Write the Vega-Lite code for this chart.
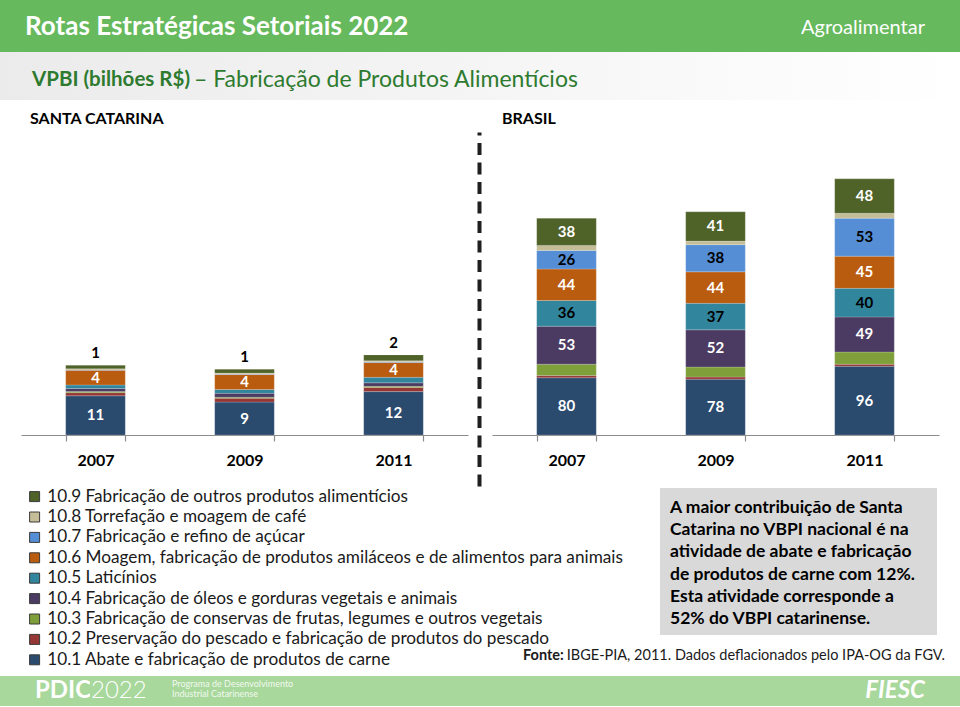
{
  "$schema": "https://vega.github.io/schema/vega-lite/v6.json",
  "padding": 0,
  "background": "#ffffff",
  "spacing": 0,
  "config": {
    "view": {"stroke": null},
    "font": "Lato",
    "concat": {"spacing": 0},
    "axis": {"grid": false}
  },
  "resolve": {"scale": {"color": "independent"}, "legend": {"color": "independent"}},
  "datasets": {
    "sc": [
      {"ano": "2007", "cod": "10.1", "valor": 11.2}, {"ano": "2007", "cod": "10.2", "valor": 0.9}, {"ano": "2007", "cod": "10.3", "valor": 0.3},
      {"ano": "2007", "cod": "10.4", "valor": 0.9}, {"ano": "2007", "cod": "10.5", "valor": 1.0}, {"ano": "2007", "cod": "10.6", "valor": 4.2},
      {"ano": "2007", "cod": "10.7", "valor": 0.1}, {"ano": "2007", "cod": "10.8", "valor": 0.3}, {"ano": "2007", "cod": "10.9", "valor": 1.0},
      {"ano": "2009", "cod": "10.1", "valor": 9.4}, {"ano": "2009", "cod": "10.2", "valor": 1.1}, {"ano": "2009", "cod": "10.3", "valor": 0.3},
      {"ano": "2009", "cod": "10.4", "valor": 1.1}, {"ano": "2009", "cod": "10.5", "valor": 1.1}, {"ano": "2009", "cod": "10.6", "valor": 4.3},
      {"ano": "2009", "cod": "10.7", "valor": 0.1}, {"ano": "2009", "cod": "10.8", "valor": 0.3}, {"ano": "2009", "cod": "10.9", "valor": 1.1},
      {"ano": "2011", "cod": "10.1", "valor": 12.4}, {"ano": "2011", "cod": "10.2", "valor": 1.2}, {"ano": "2011", "cod": "10.3", "valor": 0.3},
      {"ano": "2011", "cod": "10.4", "valor": 1.0}, {"ano": "2011", "cod": "10.5", "valor": 1.6}, {"ano": "2011", "cod": "10.6", "valor": 4.2},
      {"ano": "2011", "cod": "10.7", "valor": 0.2}, {"ano": "2011", "cod": "10.8", "valor": 0.3}, {"ano": "2011", "cod": "10.9", "valor": 1.7}
    ],
    "br": [
      {"ano": "2007", "cod": "10.1", "valor": 80}, {"ano": "2007", "cod": "10.2", "valor": 3}, {"ano": "2007", "cod": "10.3", "valor": 16},
      {"ano": "2007", "cod": "10.4", "valor": 53}, {"ano": "2007", "cod": "10.5", "valor": 36}, {"ano": "2007", "cod": "10.6", "valor": 44},
      {"ano": "2007", "cod": "10.7", "valor": 26}, {"ano": "2007", "cod": "10.8", "valor": 7}, {"ano": "2007", "cod": "10.9", "valor": 38},
      {"ano": "2009", "cod": "10.1", "valor": 78}, {"ano": "2009", "cod": "10.2", "valor": 3}, {"ano": "2009", "cod": "10.3", "valor": 14},
      {"ano": "2009", "cod": "10.4", "valor": 52}, {"ano": "2009", "cod": "10.5", "valor": 37}, {"ano": "2009", "cod": "10.6", "valor": 44},
      {"ano": "2009", "cod": "10.7", "valor": 38}, {"ano": "2009", "cod": "10.8", "valor": 5}, {"ano": "2009", "cod": "10.9", "valor": 41},
      {"ano": "2011", "cod": "10.1", "valor": 96}, {"ano": "2011", "cod": "10.2", "valor": 3}, {"ano": "2011", "cod": "10.3", "valor": 17},
      {"ano": "2011", "cod": "10.4", "valor": 49}, {"ano": "2011", "cod": "10.5", "valor": 40}, {"ano": "2011", "cod": "10.6", "valor": 45},
      {"ano": "2011", "cod": "10.7", "valor": 53}, {"ano": "2011", "cod": "10.8", "valor": 7}, {"ano": "2011", "cod": "10.9", "valor": 48}
    ]
  },
  "vconcat": [
    {
      "spacing": 0, "bounds": "flush",
      "hconcat": [
        {"width": 700, "height": 52, "view": {"fill": "#66b95c", "stroke": null}, "data": {"values": []}, "mark": "point",
         "title": {"text": "Rotas Estratégicas Setoriais 2022", "orient": "bottom", "anchor": "start", "frame": "group", "offset": -25, "dx": 25, "baseline": "middle", "font": "Lato", "fontSize": 26, "fontWeight": "bold", "color": "#ffffff"}},
        {"width": 260, "height": 52, "view": {"fill": "#66b95c", "stroke": null}, "data": {"values": []}, "mark": "point",
         "title": {"text": "Agroalimentar", "orient": "bottom", "anchor": "end", "frame": "group", "offset": -24, "dx": -35, "baseline": "middle", "font": "Lato", "fontSize": 20, "fontWeight": "normal", "color": "#ffffff"}}
      ]
    },
    {
      "spacing": 0, "bounds": "flush",
      "hconcat": [
        {"width": 194, "height": 48, "view": {"fill": {"gradient": "linear", "x1": 0, "y1": 0, "x2": 1, "y2": 0, "stops": [{"offset": 0, "color": "#ebebeb"}, {"offset": 1, "color": "#efefef"}]}, "stroke": null}, "data": {"values": []}, "mark": "point",
         "title": {"text": "VPBI (bilhões R$)", "orient": "bottom", "anchor": "start", "frame": "group", "offset": -20, "dx": 32, "baseline": "middle", "font": "Lato", "fontSize": 20.5, "fontWeight": "bold", "color": "#2e7b30"}},
        {"width": 766, "height": 48, "view": {"fill": {"gradient": "linear", "x1": 0, "y1": 0, "x2": 1, "y2": 0, "stops": [{"offset": 0, "color": "#efefef"}, {"offset": 1, "color": "#ffffff"}]}, "stroke": null}, "data": {"values": []}, "mark": "point",
         "title": {"text": "– Fabricação de Produtos Alimentícios", "orient": "bottom", "anchor": "start", "frame": "group", "offset": -20, "dx": 0, "baseline": "middle", "font": "Lato", "fontSize": 23, "fontWeight": "normal", "color": "#2e7b30"}}
      ]
    },
    {
      "spacing": 0, "bounds": "flush",
      "hconcat": [
        {"width": 480, "height": 32, "data": {"values": []}, "mark": "point",
         "title": {"text": "SANTA CATARINA", "orient": "bottom", "anchor": "start", "frame": "group", "offset": -13, "dx": 30, "baseline": "middle", "font": "Lato", "fontSize": 16, "fontWeight": "bold", "color": "#000000"}},
        {"width": 480, "height": 32, "data": {"values": []}, "mark": "point",
         "title": {"text": "BRASIL", "orient": "bottom", "anchor": "start", "frame": "group", "offset": -13, "dx": 22, "baseline": "middle", "font": "Lato", "fontSize": 16, "fontWeight": "bold", "color": "#000000"}}
      ]
    },
    {
      "spacing": 0, "bounds": "flush",
      "resolve": {"scale": {"color": "independent"}, "legend": {"color": "independent"}},
      "hconcat": [
        {"width": 21, "height": 356, "data": {"values": []}, "mark": "point"},
        {
          "width": 447, "height": 303,
          "data": {"name": "sc"},
          "encoding": {
            "x": {"field": "ano", "type": "ordinal", "scale": {"paddingInner": 0.6, "paddingOuter": 0.3},
                  "axis": {"title": null, "labelAngle": 0, "labelFont": "Lato", "labelFontSize": 16, "labelFontWeight": "bold", "labelColor": "#000000", "labelPadding": 11, "domainColor": "#8c8c8c", "domainWidth": 1.2, "tickColor": "#8c8c8c", "tickWidth": 1.2, "tickSize": 6, "tickBand": "extent", "grid": false}}
          },
          "layer": [
            {"mark": {"type": "bar", "stroke": "#ffffff", "strokeOpacity": 0.3, "strokeWidth": 0.6},
             "encoding": {
               "y": {"field": "valor", "type": "quantitative", "stack": "zero", "scale": {"domain": [0, 86.6], "nice": false}, "axis": null},
               "color": {"field": "cod", "type": "nominal", "legend": null,
                         "scale": {"domain": ["10.9", "10.8", "10.7", "10.6", "10.5", "10.4", "10.3", "10.2", "10.1"],
                                   "range": ["#4f6228", "#c4bd97", "#558ed5", "#b95c10", "#31859c", "#4b3b62", "#7f9f3a", "#953735", "#2a4a6e"]}},
               "order": {"field": "cod", "type": "ordinal", "sort": "ascending"}
             }},
            {"mark": {"type": "text", "font": "Lato", "fontSize": 15, "fontWeight": "bold", "color": "#ffffff", "baseline": "middle"},
             "encoding": {
               "y": {"field": "valor", "type": "quantitative", "stack": "zero", "bandPosition": 0.5},
               "detail": {"field": "cod", "type": "nominal"},
               "order": {"field": "cod", "type": "ordinal", "sort": "ascending"},
               "text": {"condition": {"test": "datum.cod == '10.1' || datum.cod == '10.6'", "field": "valor", "type": "quantitative", "format": ".0f"}, "value": ""}
             }},
            {"mark": {"type": "text", "font": "Lato", "fontSize": 15, "fontWeight": "bold", "color": "#000000", "baseline": "bottom", "dy": -4},
             "encoding": {
               "y": {"field": "valor", "type": "quantitative", "stack": "zero"},
               "detail": {"field": "cod", "type": "nominal"},
               "order": {"field": "cod", "type": "ordinal", "sort": "ascending"},
               "text": {"condition": {"test": "datum.cod == '10.9'", "field": "valor", "type": "quantitative", "format": ".0f"}, "value": ""}
             }}
          ]
        },
        {"width": 11, "height": 356, "data": {"values": []}, "mark": "point"},
        {"width": 1, "height": 354, "data": {"values": []}, "mark": "point",
         "encoding": {"y": {"field": "v", "type": "quantitative", "scale": {"domain": [0, 1]},
                            "axis": {"orient": "left", "title": null, "labels": false, "ticks": false, "grid": false, "domain": true, "domainColor": "#1f1f1f", "domainWidth": 4, "domainDash": [12, 7.5], "domainCap": "butt"}}}},
        {"width": 12, "height": 356, "data": {"values": []}, "mark": "point"},
        {
          "width": 447, "height": 303,
          "data": {"name": "br"},
          "encoding": {
            "x": {"field": "ano", "type": "ordinal", "scale": {"paddingInner": 0.6, "paddingOuter": 0.3},
                  "axis": {"title": null, "labelAngle": 0, "labelFont": "Lato", "labelFontSize": 16, "labelFontWeight": "bold", "labelColor": "#000000", "labelPadding": 11, "domainColor": "#8c8c8c", "domainWidth": 1.2, "tickColor": "#8c8c8c", "tickWidth": 1.2, "tickSize": 6, "tickBand": "extent", "grid": false}}
          },
          "layer": [
            {"mark": {"type": "bar", "stroke": "#ffffff", "strokeOpacity": 0.3, "strokeWidth": 0.6},
             "encoding": {
               "y": {"field": "valor", "type": "quantitative", "stack": "zero", "scale": {"domain": [0, 423.5], "nice": false}, "axis": null},
               "color": {"field": "cod", "type": "nominal", "legend": null,
                         "scale": {"domain": ["10.9", "10.8", "10.7", "10.6", "10.5", "10.4", "10.3", "10.2", "10.1"],
                                   "range": ["#4f6228", "#c4bd97", "#558ed5", "#b95c10", "#31859c", "#4b3b62", "#7f9f3a", "#953735", "#2a4a6e"]}},
               "order": {"field": "cod", "type": "ordinal", "sort": "ascending"}
             }},
            {"mark": {"type": "text", "font": "Lato", "fontSize": 15, "fontWeight": "bold", "baseline": "middle"},
             "encoding": {
               "y": {"field": "valor", "type": "quantitative", "stack": "zero", "bandPosition": 0.5},
               "detail": {"field": "cod", "type": "nominal"},
               "order": {"field": "cod", "type": "ordinal", "sort": "ascending"},
               "color": {"condition": {"test": "datum.cod == '10.5' || datum.cod == '10.7'", "value": "#000000"}, "value": "#ffffff"},
               "text": {"condition": {"test": "indexof(['10.1','10.4','10.5','10.6','10.7','10.9'], datum.cod) >= 0", "field": "valor", "type": "quantitative", "format": ".0f"}, "value": ""}
             }}
          ]
        },
        {"width": 21, "height": 356, "data": {"values": []}, "mark": "point"}
      ]
    },
    {
      "spacing": 0, "bounds": "flush",
      "resolve": {"scale": {"color": "independent"}, "legend": {"color": "independent"}},
      "hconcat": [
        {"width": 26, "height": 188, "data": {"values": []}, "mark": "point"},
        {"width": 634, "height": 188, "data": {"values": []}, "mark": "square",
         "encoding": {"color": {"field": "setor", "type": "nominal",
           "scale": {"domain": [
             "10.9 Fabricação de outros produtos alimentícios",
             "10.8 Torrefação e moagem de café",
             "10.7 Fabricação e refino de açúcar",
             "10.6 Moagem, fabricação de produtos amiláceos e de alimentos para animais",
             "10.5 Laticínios",
             "10.4 Fabricação de óleos e gorduras vegetais e animais",
             "10.3 Fabricação de conservas de frutas, legumes e outros vegetais",
             "10.2 Preservação do pescado e fabricação de produtos do pescado",
             "10.1 Abate e fabricação de produtos de carne"],
             "range": ["#4f6228", "#c4bd97", "#558ed5", "#b95c10", "#31859c", "#4b3b62", "#7f9f3a", "#953735", "#2a4a6e"]},
           "legend": {"orient": "top-left", "offset": 0, "padding": 0, "title": null, "labelFont": "Lato", "labelFontSize": 17.2, "labelColor": "#1a1a1a", "labelLimit": 0, "labelOffset": 4, "symbolType": "square", "symbolSize": 100, "symbolStrokeColor": "#3a3a3a", "symbolStrokeWidth": 1, "symbolOpacity": 1, "rowPadding": 2.4}}}},
        {"width": 277, "height": 147, "view": {"fill": "#d9d9d9", "stroke": null}, "data": {"values": []}, "mark": "point",
         "title": {"text": ["A maior contribuição de Santa", "Catarina no VBPI nacional é na", "atividade de abate e fabricação", "de produtos de carne com 12%.", "Esta atividade corresponde a", "52% do VBPI catarinense."],
                   "orient": "bottom", "anchor": "start", "frame": "group", "offset": -136, "dx": 10, "baseline": "top", "lineHeight": 22.2, "font": "Lato", "fontSize": 17.5, "fontWeight": "bold", "color": "#000000"}},
        {"width": 23, "height": 188, "data": {"values": []}, "mark": "point",
         "title": {"text": "IBGE-PIA, 2011. Dados deflacionados pelo IPA-OG da FGV.", "orient": "bottom", "anchor": "end", "frame": "group", "offset": -20, "dx": -15, "baseline": "middle", "font": "Lato", "fontSize": 14.5, "fontWeight": "normal", "color": "#1a1a1a"}},
        {"width": 0, "height": 188, "data": {"values": []}, "mark": "point",
         "title": {"text": "Fonte:", "orient": "bottom", "anchor": "start", "frame": "group", "offset": -20, "dx": -437, "baseline": "middle", "font": "Lato", "fontSize": 14.5, "fontWeight": "bold", "color": "#1a1a1a"}}
      ]
    },
    {
      "spacing": 0, "bounds": "flush",
      "hconcat": [
        {"width": 90, "height": 30, "view": {"fill": "#a8d89c", "stroke": null}, "data": {"values": []}, "mark": "point",
         "title": {"text": "PDIC", "orient": "bottom", "anchor": "start", "frame": "group", "offset": -15, "dx": 35, "baseline": "middle", "font": "Lato", "fontSize": 24, "fontWeight": "bold", "color": "#ffffff"}},
        {"width": 80, "height": 30, "view": {"fill": "#a8d89c", "stroke": null}, "data": {"values": []}, "mark": "point",
         "title": {"text": "2022", "orient": "bottom", "anchor": "start", "frame": "group", "offset": -15, "dx": 1, "baseline": "middle", "font": "Lato", "fontSize": 24, "fontWeight": 300, "color": "#ffffff"}},
        {"width": 620, "height": 30, "view": {"fill": "#a8d89c", "stroke": null}, "data": {"values": []}, "mark": "point",
         "title": {"text": ["Programa de Desenvolvimento", "Industrial Catarinense"], "orient": "bottom", "anchor": "start", "frame": "group", "offset": -26, "dx": 2, "baseline": "top", "lineHeight": 10, "font": "Lato", "fontSize": 9, "fontWeight": "normal", "color": "#f2f9ef"}},
        {"width": 170, "height": 30, "view": {"fill": "#a8d89c", "stroke": null}, "data": {"values": []}, "mark": "point",
         "title": {"text": "FIESC", "orient": "bottom", "anchor": "end", "frame": "group", "offset": -15, "dx": -35, "baseline": "middle", "font": "Lato", "fontSize": 24, "fontWeight": "bold", "fontStyle": "italic", "color": "#ffffff"}}
      ]
    }
  ]
}
